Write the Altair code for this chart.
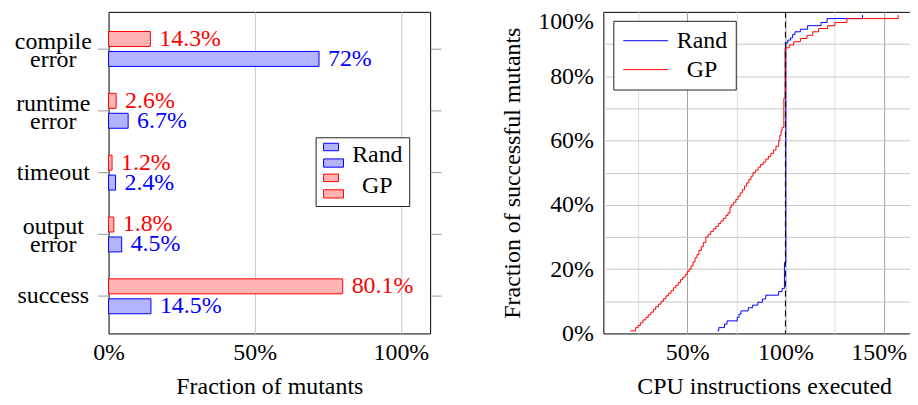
import altair as alt
import pandas as pd

# ---------------- data ----------------
categories = ["compile\nerror", "runtime\nerror", "timeout", "output\nerror", "success"]
rand_pct = [72, 6.7, 2.4, 4.5, 14.5]
gp_pct = [14.3, 2.6, 1.2, 1.8, 80.1]

series = ["Rand", "GP"]
fill_colors = ["#b3b3ff", "#ffb3b3"]
line_colors = ["#0000ff", "#ff0000"]

rand_x = [0.654, 0.661, 0.690, 0.703, 0.755, 0.764, 0.774, 0.811, 0.833, 0.860,
          0.883, 0.900, 0.966, 0.983, 0.995, 1.002, 1.012, 1.026, 1.037, 1.049,
          1.076, 1.113, 1.181, 1.212, 1.392]
rand_y = [0.008, 0.018, 0.029, 0.039, 0.050, 0.060, 0.070, 0.080, 0.088, 0.097,
          0.107, 0.119, 0.130, 0.140, 0.220, 0.903, 0.912, 0.919, 0.930, 0.938,
          0.946, 0.957, 0.967, 0.979, 0.990]

gp_x = [0.210, 0.238, 0.250, 0.262, 0.275, 0.290, 0.302, 0.315, 0.328, 0.340,
        0.354, 0.367, 0.380, 0.392, 0.405, 0.418, 0.430, 0.442, 0.455, 0.466,
        0.478, 0.490, 0.500, 0.510, 0.520, 0.530, 0.540, 0.550, 0.560, 0.572,
        0.582, 0.595, 0.607, 0.620, 0.633, 0.646, 0.659, 0.672, 0.684, 0.697,
        0.708, 0.718, 0.725, 0.736, 0.748, 0.759, 0.770, 0.781, 0.792, 0.803,
        0.814, 0.825, 0.835, 0.848, 0.861, 0.874, 0.887, 0.900, 0.913, 0.926,
        0.939, 0.952, 0.966, 0.972, 0.978, 0.983, 0.992, 0.998, 1.019, 1.042,
        1.076, 1.110, 1.139, 1.169, 1.215, 1.252, 1.313, 1.574]
gp_y = [0.008, 0.018, 0.025, 0.033, 0.042, 0.050, 0.058, 0.066, 0.075, 0.083,
        0.091, 0.100, 0.108, 0.117, 0.125, 0.133, 0.142, 0.150, 0.158, 0.167,
        0.175, 0.183, 0.192, 0.200, 0.210, 0.222, 0.235, 0.245, 0.258, 0.270,
        0.283, 0.300, 0.308, 0.317, 0.325, 0.333, 0.342, 0.350, 0.358, 0.367,
        0.375, 0.392, 0.400, 0.408, 0.417, 0.427, 0.437, 0.447, 0.458, 0.468,
        0.479, 0.489, 0.500, 0.508, 0.517, 0.525, 0.533, 0.542, 0.550, 0.560,
        0.570, 0.582, 0.600, 0.617, 0.630, 0.640, 0.731, 0.888, 0.897, 0.907,
        0.917, 0.927, 0.938, 0.948, 0.957, 0.967, 0.979, 0.990]

FONT = "Liberation Serif"
FS = 24

# ---------------- left panel ----------------
rows = []
for c, r, g in zip(categories, rand_pct, gp_pct):
    rows.append({"cat": c, "series": "Rand", "v": r / 100, "label": f"{r:g}%"})
    rows.append({"cat": c, "series": "GP", "v": g / 100, "label": f"{g:g}%"})
bars_df = pd.DataFrame(rows)

yoff = alt.YOffset("series:N", sort=["GP", "Rand"],
                   scale=alt.Scale(domain=["GP", "Rand"], paddingInner=0.25, paddingOuter=0.675))

x_left = alt.X("v:Q", scale=alt.Scale(domain=[0, 1.1], nice=False),
               axis=alt.Axis(values=[0, 0.5, 1.0], format=".0%", title="Fraction of mutants",
                             grid=True, gridColor="#c8c8c8", labelFlush=False,
                             gridOpacity={"condition": {"test": "datum.value == 0", "value": 0}, "value": 1},
                             ticks=False, domain=False, labelPadding=7, titlePadding=10))

bar_legend = alt.Legend(title=None, orient="none", legendX=208, legendY=126,
                        symbolType="M-1,-1.2H0.5V-0.45H-1Z M-1,0.37H1V1.2H-1Z",
                        symbolSize=400, symbolStrokeWidth=1,
                        labelAlign="center", labelOffset=32, padding=6, rowPadding=3,
                        strokeColor="#222", fillColor="white",
                        labelFont=FONT, labelFontSize=FS, labelColor="black")

bars = alt.Chart(bars_df).mark_bar(strokeWidth=1, fillOpacity=1).encode(
    y=alt.Y("cat:N", sort=categories,
            scale=alt.Scale(paddingInner=0, paddingOuter=0.1),
            axis=alt.Axis(title=None, orient="left", labelExpr="split(datum.label, '\\n')",
                          labelAlign="center", labelBaseline="middle", labelPadding=45,
                          labelLineHeight=18,
                          labelOffset={"condition": {"test": "indexof(datum.value, '\\n') >= 0", "value": -7},
                                       "value": 0},
                          ticks=True, tickSize=11, tickColor="#999",
                          domain=False, grid=False)),
    yOffset=yoff,
    x=x_left,
    fill=alt.Fill("series:N", scale=alt.Scale(domain=series, range=fill_colors), legend=bar_legend),
    stroke=alt.Stroke("series:N", scale=alt.Scale(domain=series, range=line_colors), legend=bar_legend),
)

bar_text = alt.Chart(bars_df).mark_text(align="left", baseline="middle", dx=9,
                                        font=FONT, fontSize=FS).encode(
    y=alt.Y("cat:N", sort=categories,
            axis=alt.Axis(title=None, orient="right", labels=False, ticks=True, tickSize=11,
                          tickColor="#999", domain=False, grid=False)),
    yOffset=yoff,
    x=alt.X("v:Q"),
    text="label:N",
    color=alt.Color("series:N", scale=alt.Scale(domain=series, range=line_colors), legend=None),
)

left = alt.layer(bars, bar_text).resolve_axis(y="independent").properties(width=323, height=323)

# ---------------- right panel ----------------
lrows = [{"series": "Rand", "x": x, "y": y} for x, y in zip(rand_x, rand_y)]
lrows += [{"series": "GP", "x": x, "y": y} for x, y in zip(gp_x, gp_y)]
line_df = pd.DataFrame(lrows)

x_right = alt.X("x:Q", scale=alt.Scale(domain=[0.0736, 1.71], nice=False, zero=False),
                axis=alt.Axis(values=[0.25, 0.5, 0.75, 1.0, 1.25, 1.5], labelFlush=False,
                              labelExpr="round(datum.value*4) % 2 == 0 ? format(datum.value, '.0%') : ''",
                              labelOffset={"condition": {"test": "datum.value == 1.5", "value": -5}, "value": 0},
                              title="CPU instructions executed", grid=True,
                              gridColor={"condition": {"test": "round(datum.value*4) % 2 == 0", "value": "#a0a0a0"},
                                         "value": "#dcdcdc"},
                              ticks=False, domain=False, labelPadding=7, titlePadding=10))
y_right = alt.Y("y:Q", scale=alt.Scale(domain=[0, 1], nice=False),
                axis=alt.Axis(values=[0, 0.1, 0.2, 0.3, 0.4, 0.5, 0.6, 0.7, 0.8, 0.9, 1.0],
                              labelExpr="round(datum.value*10) % 2 == 0 ? format(datum.value, '.0%') : ''",
                              labelOffset={"condition": {"test": "datum.value == 1", "value": 10}, "value": 0},
                              labelFlush=False,
                              title="Fraction of successful mutants", grid=True, gridColor="#c8c8c8",
                              gridOpacity={"condition": {"test": "datum.value == 0 || datum.value == 1", "value": 0},
                                           "value": 1},
                              ticks=False, domain=False, labelPadding=10, titlePadding=13))

rule = alt.Chart(pd.DataFrame({"x": [1.0]})).mark_rule(color="black", strokeDash=[6, 4], strokeWidth=1).encode(
    x=alt.X("x:Q"))

lines = alt.Chart(line_df).mark_line(interpolate="step-after", strokeWidth=1).encode(
    x=x_right,
    y=y_right,
    color=alt.Color("series:N", scale=alt.Scale(domain=series, range=line_colors),
                    legend=alt.Legend(title=None, orient="none", legendX=10, legendY=9,
                                      symbolType="M-1,0H3.5", symbolSize=400, symbolStrokeWidth=1,
                                      labelAlign="center", labelOffset=57, padding=8, rowPadding=5,
                                      strokeColor="#222", fillColor="white",
                                      labelFont=FONT, labelFontSize=FS, labelColor="black")),
)

right = alt.layer(lines, rule).properties(width=323, height=323)

chart = alt.hconcat(left, right, spacing=58).resolve_scale(color="independent").properties(
    padding={"left": 5, "top": 0, "right": -16, "bottom": 0}
).configure_view(stroke="black", strokeWidth=1).configure_axis(
    labelFont=FONT, labelFontSize=FS, titleFont=FONT, titleFontSize=FS, titleFontWeight="normal",
    labelColor="black", titleColor="black"
)

chart.save("out.html", embed_options={"renderer": "svg", "actions": False})
